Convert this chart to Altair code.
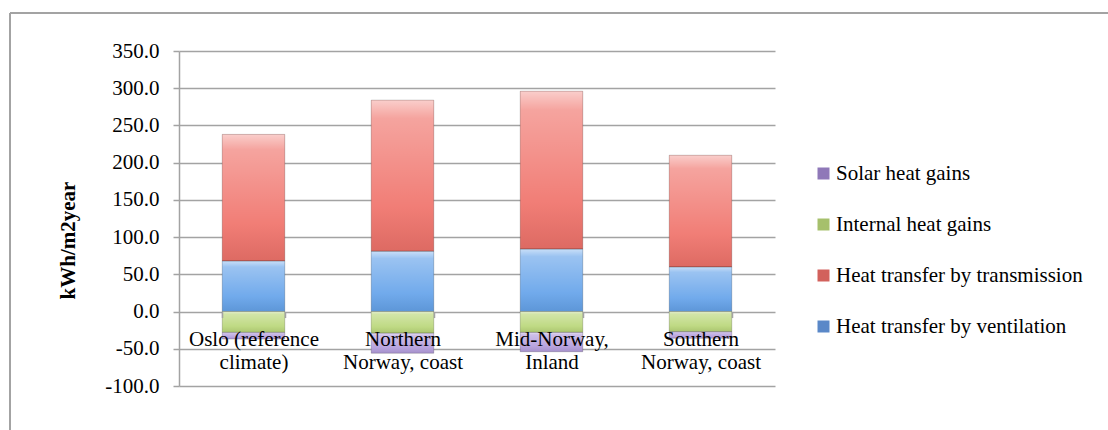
import altair as alt
import pandas as pd

categories = ["Oslo (reference climate)", "Northern Norway, coast", "Mid-Norway, Inland", "Southern Norway, coast"]
label_lines = [["Oslo (reference", "climate)"], ["Northern", "Norway, coast"],
               ["Mid-Norway,", "Inland"], ["Southern", "Norway, coast"]]
series = ["Heat transfer by ventilation", "Heat transfer by transmission",
          "Internal heat gains", "Solar heat gains"]
ventilation = [68, 81, 84, 60]
transmission = [170, 203, 212, 150]
internal = [-28, -29, -28, -27]
solar = [-9, -27, -26, -9]
legend_order = ["Solar heat gains", "Internal heat gains",
                "Heat transfer by transmission", "Heat transfer by ventilation"]
bar_colors = ["#b39ddc", "#bad77a", "#f0736b", "#65a3ea"]
legend_colors = ["#8f78b8", "#a6c06c", "#d2615c", "#5a88c8"]
y_ticks = [-100, -50, 0, 50, 100, 150, 200, 250, 300, 350]

rows = []
for i, cat in enumerate(categories):
    for k, (s, vals) in enumerate(zip(series, [ventilation, transmission, internal, solar])):
        rows.append({"category": cat, "series": s, "value": vals[i], "ord": k})
df = pd.DataFrame(rows)
legend_df = pd.DataFrame({"series": legend_order})

W, H = 596, 335
YMIN, YMAX = -100, 350
FONT = "Liberation Serif"
FS = 21
GRID = "#a3a3a3"

label_map = "{" + ", ".join(
    "'%s': ['%s', '%s']" % (c, l[0], l[1]) for c, l in zip(categories, label_lines)
) + "}[datum.value]"

x_enc = alt.X(
    "category:N", sort=categories, title=None,
    scale=alt.Scale(paddingInner=0.58, paddingOuter=0.29),
    axis=alt.Axis(orient="bottom", offset=-H * (0 - YMIN) / (YMAX - YMIN),
                  domain=False, grid=False, ticks=True, tickBand="extent",
                  tickSize=6, tickColor=GRID, tickWidth=1.5,
                  labelExpr=label_map, labelAngle=0, labelFont=FONT,
                  labelFontSize=FS, labelColor="black", labelPadding=11,
                  labelLineHeight=23, labelBaseline="top", labelLimit=0, zindex=1),
)
y_enc = alt.Y(
    "value:Q", stack="zero", title="kWh/m2year",
    scale=alt.Scale(domain=[YMIN, YMAX], nice=False, zero=False),
    axis=alt.Axis(values=y_ticks,
                  labelExpr="(datum.value < 0 ? '-' : '') + format(abs(datum.value), '.1f')",
                  grid=True, gridColor=GRID, gridWidth=1.5,
                  domainColor=GRID, domainWidth=1.5,
                  tickColor=GRID, tickSize=6, tickWidth=1.5,
                  labelFont=FONT, labelFontSize=FS, labelColor="black", labelPadding=14,
                  titleFont=FONT, titleFontSize=FS, titleFontWeight="bold",
                  titleColor="black", titleAngle=270, titleX=-111, titleY=189,
                  titleAlign="center", titleBaseline="middle"),
)

base = alt.Chart(df).encode(x=x_enc, y=y_enc, order=alt.Order("ord:Q"))

bars = base.mark_bar().encode(
    color=alt.Color("series:N",
                    scale=alt.Scale(domain=legend_order, range=bar_colors),
                    legend=None)
)

shine = base.mark_bar(
    fill=alt.Gradient(
        gradient="linear", x1=0, x2=0, y1=0, y2=1,
        stops=[alt.GradientStop(offset=0, color="rgba(255,255,255,0.65)"),
               alt.GradientStop(offset=0.12, color="rgba(255,255,255,0.35)"),
               alt.GradientStop(offset=0.7, color="rgba(255,255,255,0.08)"),
               alt.GradientStop(offset=1, color="rgba(0,0,0,0.08)")]),
    stroke="rgba(0,0,0,0.18)", strokeWidth=1,
).encode(detail="series:N")

legend_layer = alt.Chart(legend_df).mark_square(opacity=0).encode(
    fill=alt.Fill(
        "series:N",
        scale=alt.Scale(domain=legend_order, range=legend_colors),
        legend=alt.Legend(title=None, orient="none", legendX=634, legendY=112,
                          symbolType="square", symbolSize=144, symbolStrokeWidth=0,
                          symbolOpacity=1,
                          labelFont=FONT, labelFontSize=FS, labelColor="black",
                          labelLimit=0, rowPadding=29, labelOffset=2, padding=0),
    ),
    x=alt.value(0), y=alt.value(0),
)

frame_df = pd.DataFrame({"k": [0]})
top_line = alt.Chart(frame_df).mark_rule(color=GRID, strokeWidth=2).encode(
    x=alt.value(-169), x2=alt.value(1000), y=alt.value(-38), y2=alt.value(-38))
left_line = alt.Chart(frame_df).mark_rule(color=GRID, strokeWidth=2).encode(
    x=alt.value(-169), x2=alt.value(-169), y=alt.value(-38), y2=alt.value(400))

chart = alt.layer(top_line, left_line, bars, shine, legend_layer).resolve_scale(
    color="independent", fill="independent"
).properties(
    width=W, height=H,
    autosize=alt.AutoSizeParams(type="none"),
    padding={"left": 179, "top": 51, "right": 333, "bottom": 44},
    background="white",
).configure_view(strokeWidth=0)

chart.save("out.html", embed_options={"renderer": "svg", "actions": False})
